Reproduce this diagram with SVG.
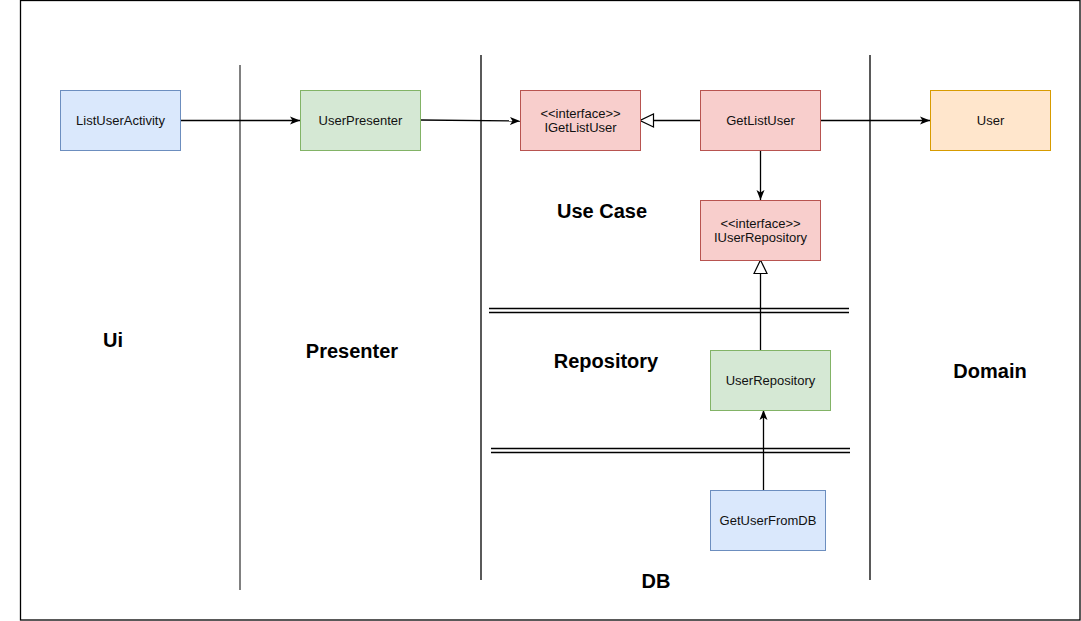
<svg xmlns="http://www.w3.org/2000/svg" width="1081" height="621" viewBox="0 0 1081 621">
<style>
.node text{font-family:"Liberation Sans",Arial,sans-serif;font-size:13px;fill:#111;text-anchor:middle}
.lbl{font-family:"Liberation Sans",Arial,sans-serif;font-size:20px;font-weight:bold;fill:#000;text-anchor:middle}
.blue{fill:#dae8fc;stroke:#6c8ebf}
.green{fill:#d5e8d4;stroke:#82b366}
.red{fill:#f8cecc;stroke:#b85450}
.orange{fill:#ffe6cc;stroke:#d79b00}
.edge{stroke:#000;stroke-width:1.3;fill:none}
.sep{stroke:#000;stroke-width:1.3;fill:none}
</style>
<defs>
<marker id="arr" viewBox="0 0 10 10" refX="10" refY="5" markerWidth="10" markerHeight="10" markerUnits="userSpaceOnUse" orient="auto">
<path d="M0,1 L10,5 L0,9 L2.5,5 Z" fill="#000"/>
</marker>
<marker id="tri" viewBox="0 0 16 16" refX="15" refY="8" markerWidth="16" markerHeight="16" markerUnits="userSpaceOnUse" orient="auto">
<path d="M1.5,1.5 L15,8 L1.5,14.5 Z" fill="#fff" stroke="#000" stroke-width="1.2"/>
</marker>
</defs>
<rect x="0" y="0" width="1081" height="621" fill="#fff"/>
<rect x="20.5" y="0.5" width="1059.5" height="619.5" fill="none" stroke="#000" stroke-width="1.3"/>
<g id="separators">
<line x1="240" y1="65" x2="240" y2="590" stroke="#808080" stroke-width="2"/>
<line x1="481" y1="55" x2="481" y2="580" class="sep"/>
<line x1="870" y1="55" x2="870" y2="580" class="sep"/>
<line x1="489" y1="308.5" x2="849" y2="308.5" class="sep"/>
<line x1="489" y1="312.5" x2="849" y2="312.5" class="sep"/>
<line x1="491" y1="448.5" x2="850" y2="448.5" class="sep"/>
<line x1="491" y1="452.5" x2="850" y2="452.5" class="sep"/>
</g>
<g id="labels">
<text class="lbl" x="113" y="347">Ui</text>
<text class="lbl" x="352" y="358">Presenter</text>
<text class="lbl" x="602" y="218">Use Case</text>
<text class="lbl" x="606" y="368">Repository</text>
<text class="lbl" x="990" y="378">Domain</text>
<text class="lbl" x="656" y="588">DB</text>
</g>
<g id="connectors">
<line x1="180" y1="120.5" x2="300" y2="120.5" class="edge" marker-end="url(#arr)"/>
<line x1="420" y1="120" x2="520" y2="121" class="edge" marker-end="url(#arr)"/>
<line x1="700" y1="120.5" x2="640" y2="120.5" class="edge" marker-end="url(#tri)"/>
<line x1="820" y1="120.5" x2="930" y2="120.5" class="edge" marker-end="url(#arr)"/>
<line x1="760.5" y1="150" x2="760.5" y2="200" class="edge" marker-end="url(#arr)"/>
<line x1="760.5" y1="350" x2="760.5" y2="260" class="edge" marker-end="url(#tri)"/>
<line x1="763.5" y1="490" x2="763.5" y2="410" class="edge" marker-end="url(#arr)"/>
</g>
<g id="ListUserActivity" class="node">
<rect x="60.5" y="90.5" width="120" height="60" class="blue"/>
<text x="120.5" y="125">ListUserActivity</text>
</g>
<g id="UserPresenter" class="node">
<rect x="300.5" y="90.5" width="120" height="60" class="green"/>
<text x="360.5" y="125">UserPresenter</text>
</g>
<g id="IGetListUser" class="node">
<rect x="520.5" y="90.5" width="120" height="60" class="red"/>
<text x="580.5" y="118">&lt;&lt;interface&gt;&gt;</text>
<text x="580.5" y="132">IGetListUser</text>
</g>
<g id="GetListUser" class="node">
<rect x="700.5" y="90.5" width="120" height="60" class="red"/>
<text x="760.5" y="125">GetListUser</text>
</g>
<g id="User" class="node">
<rect x="930.5" y="90.5" width="120" height="60" class="orange"/>
<text x="990.5" y="125">User</text>
</g>
<g id="IUserRepository" class="node">
<rect x="700.5" y="200.5" width="120" height="60" class="red"/>
<text x="760.5" y="228">&lt;&lt;interface&gt;&gt;</text>
<text x="760.5" y="242">IUserRepository</text>
</g>
<g id="UserRepository" class="node">
<rect x="710.5" y="350.5" width="120" height="60" class="green"/>
<text x="770.5" y="385">UserRepository</text>
</g>
<g id="GetUserFromDB" class="node">
<rect x="710.5" y="490.5" width="115" height="60" class="blue"/>
<text x="768" y="525">GetUserFromDB</text>
</g>
</svg>
